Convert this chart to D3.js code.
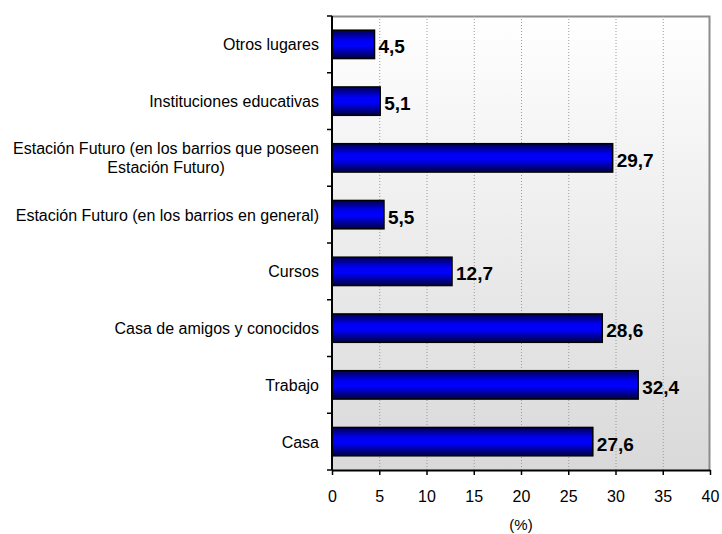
<!DOCTYPE html>
<html>
<head>
<meta charset="utf-8">
<script src="https://cdn.jsdelivr.net/npm/d3@7"></script>
<style>
  body { margin: 0; background: #fff; }
  svg { font-family: Arial, "Liberation Sans", sans-serif; }
  .grid line { stroke: #9a9a9a; stroke-dasharray: 1,2; }
  .grid path { display: none; }
</style>
</head>
<body>
<script>
// categories top to bottom
const categories = [
  "Otros lugares",
  "Instituciones educativas",
  "Estación Futuro (en los barrios que poseen|Estación Futuro)",
  "Estación Futuro (en los barrios en general)",
  "Cursos",
  "Casa de amigos y conocidos",
  "Trabajo",
  "Casa"
];
const values = [4.5, 5.1, 29.7, 5.5, 12.7, 28.6, 32.4, 27.6];
const xTicks = [0, 5, 10, 15, 20, 25, 30, 35, 40];
const xTitle = "(%)";

const data = categories.map((c, i) => ({cat: c, v: values[i]}));

const margin = {top: 16, right: 12, bottom: 64, left: 332};
const W = 722, H = 534;
const width = W - margin.left - margin.right;
const height = H - margin.top - margin.bottom;

const svg = d3.select("body").append("svg")
  .attr("width", W).attr("height", H);

const defs = svg.append("defs");
const bg = defs.append("linearGradient").attr("id", "bg")
  .attr("x1", 0).attr("y1", 0).attr("x2", 0).attr("y2", 1);
bg.append("stop").attr("offset", "0%").attr("stop-color", "#ffffff");
bg.append("stop").attr("offset", "100%").attr("stop-color", "#d9d9d9");

const barG = defs.append("linearGradient").attr("id", "barfill")
  .attr("x1", 0).attr("y1", 0).attr("x2", 0).attr("y2", 1);
barG.append("stop").attr("offset", "0%").attr("stop-color", "#000050");
barG.append("stop").attr("offset", "35%").attr("stop-color", "#0000f0");
barG.append("stop").attr("offset", "55%").attr("stop-color", "#0000ff");
barG.append("stop").attr("offset", "100%").attr("stop-color", "#000040");

const g = svg.append("g")
  .attr("transform", "translate(" + margin.left + "," + margin.top + ")");

const x = d3.scaleLinear().domain([0, 40]).range([0, width]);
const y = d3.scaleBand().domain(categories).range([0, height]).paddingInner(0.5).paddingOuter(0.25);

// plot background
g.append("rect")
  .attr("width", width).attr("height", height)
  .attr("fill", "url(#bg)");

// frame top/right
g.append("path")
  .attr("d", "M0,0.5H" + (width - 0.5) + "V" + height)
  .attr("fill", "none").attr("stroke", "#8c8c8c").attr("stroke-width", 2);

// grid
g.append("g").attr("class", "grid")
  .call(d3.axisBottom(x).tickValues(xTicks.slice(1, -1)).tickSize(height).tickFormat(""));

// bars
g.selectAll(".bar").data(data).enter().append("rect")
  .attr("class", "bar")
  .attr("x", 0)
  .attr("y", d => y(d.cat))
  .attr("width", d => x(d.v))
  .attr("height", y.bandwidth())
  .attr("fill", "url(#barfill)")
  .attr("stroke", "#000").attr("stroke-width", 1.5);

// value labels
g.selectAll(".val").data(data).enter().append("text")
  .attr("x", d => x(d.v) + 4)
  .attr("y", d => y(d.cat) + y.bandwidth() / 2 + 9)
  .attr("font-size", 19).attr("font-weight", "bold")
  .text(d => d.v.toFixed(1).replace(".", ","));

// x axis
const xAxis = g.append("g")
  .attr("transform", "translate(0," + height + ")")
  .call(d3.axisBottom(x).tickValues(xTicks).tickSize(5).tickSizeOuter(0).tickPadding(16));
xAxis.select(".domain").attr("stroke", "#000").attr("stroke-width", 2);
xAxis.selectAll(".tick line").attr("stroke", "#000").attr("stroke-width", 1.5);
xAxis.selectAll("text").attr("font-size", 16).attr("fill", "#000").attr("font-family", "Arial, 'Liberation Sans', sans-serif");

// y axis line and ticks at band boundaries
const bounds = d3.range(categories.length + 1).map(i => i * height / categories.length);
g.append("line").attr("x1", 0).attr("x2", 0).attr("y1", 0).attr("y2", height)
  .attr("stroke", "#000").attr("stroke-width", 2);
g.selectAll(".ytick").data(bounds).enter().append("line")
  .attr("x1", -5).attr("x2", 0)
  .attr("y1", d => d).attr("y2", d => d)
  .attr("stroke", "#000").attr("stroke-width", 1.5);

// category labels
const labelRight = -13;
data.forEach(d => {
  const lines = d.cat.split("|");
  const cy = y(d.cat) + y.bandwidth() / 2;
  const lh = 19;
  const t = g.append("text")
    .attr("font-size", 16).attr("fill", "#000");
  if (lines.length === 1) {
    t.attr("text-anchor", "end").attr("x", labelRight).attr("y", cy + 6).text(lines[0]);
  } else {
    // centered block, right aligned as a whole
    const tmp = g.append("text").attr("font-size", 16).text(lines[0]);
    const w = tmp.node().getComputedTextLength();
    tmp.remove();
    const cx = labelRight - w / 2;
    t.attr("text-anchor", "middle");
    lines.forEach((ln, i) => {
      t.append("tspan").attr("x", cx)
        .attr("y", cy + 6 + (i - (lines.length - 1) / 2) * lh)
        .text(ln);
    });
  }
});

// x title
g.append("text")
  .attr("x", x(20)).attr("y", height + 60)
  .attr("text-anchor", "middle").attr("font-size", 15)
  .text(xTitle);
</script>
</body>
</html>
